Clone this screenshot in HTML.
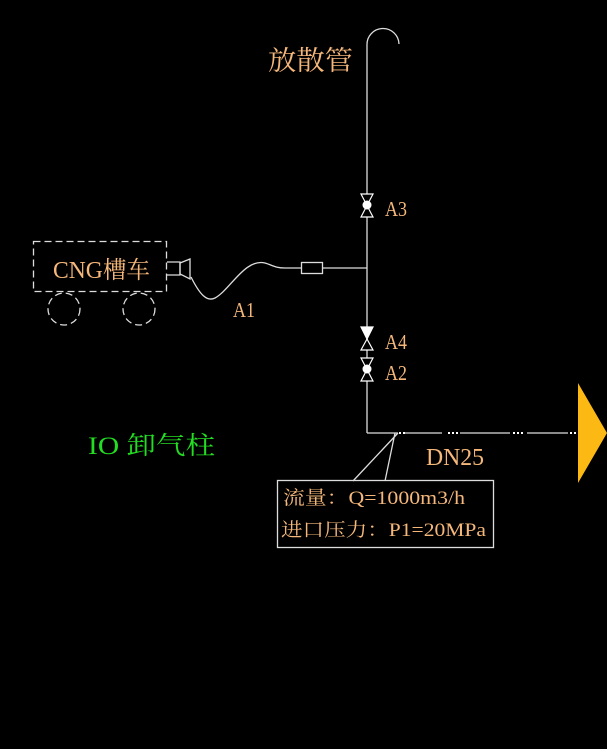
<!DOCTYPE html>
<html><head><meta charset="utf-8"><style>
body{margin:0;background:#000;width:607px;height:749px;overflow:hidden}
svg{display:block}
text{font-family:"Liberation Serif","Noto Serif CJK SC",serif;}
</style></head><body>
<svg width="607" height="749" viewBox="0 0 607 749">
<g stroke="#ddd" stroke-width="1.3" fill="none">
<path d="M367 433 V45 A16 16 0 0 1 399 44"/>
<path d="M367 433 H398"/>
<path d="M405 433 H442 M460 433 H510 M527 433 H568"/>
<path d="M398 433 L353 481 M395 433 L385 481"/>
<rect x="277.5" y="480.5" width="216" height="67"/>
<path d="M322 268 H367"/>
<rect x="301.5" y="262.5" width="21" height="11"/>
<path d="M167 262 H180 V275 H167"/>
<path d="M180 263 L190 259 V279 L180 274 Z"/>
<path d="M191 277 C200 295,207 302,215 298 C230 290,245 258,265 263 C272 265,275 268,285 268 H301"/>
<g stroke-dasharray="7,4">
<rect x="33.5" y="241.5" width="133" height="50"/>
<circle cx="64" cy="309" r="16"/>
<circle cx="139" cy="309" r="16"/>
</g>
</g>
<g stroke="#fff" stroke-width="1.2" fill="#000">
<path d="M361 194 H373 L361 217 H373 Z"/>
<path d="M361 327 H373 L367 339 Z" fill="#fff"/>
<path d="M367 339 L361 350 H373 Z"/>
<path d="M361 358 H373 L361 381 H373 Z"/>
</g>
<circle cx="367" cy="205" r="4.5" fill="#fff"/>
<circle cx="367" cy="369" r="4.5" fill="#fff"/>
<g fill="#fff"><rect x="399" y="432" width="2" height="2"/><rect x="403" y="432" width="2" height="2"/><rect x="448" y="432" width="2" height="2"/><rect x="452" y="432" width="2" height="2"/><rect x="456" y="432" width="2" height="2"/><rect x="513" y="432" width="2" height="2"/><rect x="517" y="432" width="2" height="2"/><rect x="521" y="432" width="2" height="2"/><rect x="570" y="432" width="2" height="2"/><rect x="574" y="432" width="2" height="2"/></g>
<path d="M578 383 L607 433 L578 483 Z" fill="#fdb913"/>
<g fill="#f5b77a" lengthAdjust="spacingAndGlyphs">
<text x="268" y="70" font-size="27" textLength="85" lengthAdjust="spacingAndGlyphs">放散管</text>
<text x="385" y="216" font-size="21" textLength="22" lengthAdjust="spacingAndGlyphs">A3</text>
<text x="385" y="349" font-size="21" textLength="22" lengthAdjust="spacingAndGlyphs">A4</text>
<text x="385" y="380" font-size="21" textLength="22" lengthAdjust="spacingAndGlyphs">A2</text>
<text x="233" y="317" font-size="21" textLength="22" lengthAdjust="spacingAndGlyphs">A1</text>
<text x="53" y="278" font-size="24" textLength="97" lengthAdjust="spacingAndGlyphs">CNG槽车</text>
<text x="426" y="465" font-size="24" textLength="58" lengthAdjust="spacingAndGlyphs">DN25</text>
<text x="283" y="504" font-size="19" textLength="182" lengthAdjust="spacingAndGlyphs">流量：Q=1000m3/h</text>
<text x="281" y="536" font-size="19" textLength="205" lengthAdjust="spacingAndGlyphs">进口压力：P1=20MPa</text>
</g>
<text x="88" y="454" font-size="25" fill="#22dd22" textLength="127" lengthAdjust="spacingAndGlyphs">IO 卸气柱</text>
</svg>
</body></html>
